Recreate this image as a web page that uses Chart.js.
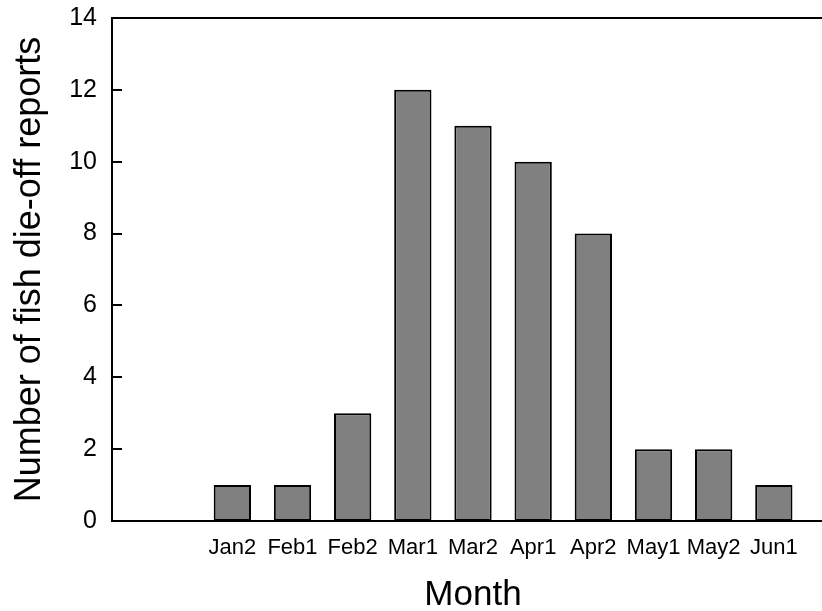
<!DOCTYPE html>
<html>
<head>
<meta charset="utf-8">
<script src="https://cdn.jsdelivr.net/npm/chart.js@4"></script>
<style>
html, body { margin: 0; padding: 0; overflow: hidden; background: #fff; }
#wrap { width: 822px; height: 611px; overflow: hidden; position: relative; }
canvas { display: block; }
</style>
</head>
<body>
<div id="wrap"><canvas id="c" width="834" height="611" style="width:834px;height:611px"></canvas></div>
<script>
const categories = ['Jan2', 'Feb1', 'Feb2', 'Mar1', 'Mar2', 'Apr1', 'Apr2', 'May1', 'May2', 'Jun1'];
const reports = [1, 1, 3, 12, 11, 10, 8, 2, 2, 1];
const yTicks = [0, 2, 4, 6, 8, 10, 12, 14];

const FONT = "'Liberation Sans', Arial, sans-serif";

const framePlugin = {
  id: 'frame',
  afterDraw(chart) {
    const { ctx, chartArea } = chart;
    const y = chart.scales.y;
    ctx.save();
    ctx.strokeStyle = '#000';
    ctx.lineWidth = 2;
    ctx.beginPath();
    ctx.moveTo(chartArea.left - 1, chartArea.top);
    ctx.lineTo(chartArea.right, chartArea.top);
    ctx.stroke();
    ctx.beginPath();
    yTicks.forEach(v => {
      const py = Math.round(y.getPixelForValue(v));
      ctx.moveTo(chartArea.left, py);
      ctx.lineTo(chartArea.left + 10, py);
    });
    ctx.stroke();
    ctx.restore();
  }
};

new Chart(document.getElementById('c'), {
  type: 'bar',
  data: {
    datasets: [{
      data: categories.map((c, i) => ({ x: i + 1, y: reports[i] })),
      backgroundColor: '#808080',
      borderColor: '#000',
      borderWidth: 2,
      borderSkipped: false,
      categoryPercentage: 1,
      barPercentage: 0.62
    }]
  },
  options: {
    responsive: false,
    animation: false,
    devicePixelRatio: 1,
    layout: { padding: { top: 18, left: 0, right: 0, bottom: 0 } },
    plugins: { legend: { display: false }, tooltip: { enabled: false } },
    scales: {
      x: {
        type: 'linear',
        offset: false,
        min: -1,
        max: 11,
        grid: { display: false, drawTicks: false },
        border: { display: true, color: '#000', width: 2 },
        afterFit(s) { s.height = 90; s.paddingLeft = 0; s.paddingRight = 0; },
        afterBuildTicks(s) {
          const t = [];
          for (let v = -1; v <= 11; v++) t.push({ value: v });
          s.ticks = t;
        },
        ticks: {
          autoSkip: false,
          maxRotation: 0,
          padding: 14,
          color: '#000',
          font: { family: FONT, size: 22 },
          callback: (v) => (v >= 1 && v <= categories.length) ? categories[v - 1] : ''
        },
        title: {
          display: true,
          text: 'Month',
          color: '#000',
          font: { family: FONT, size: 35, lineHeight: 0.9 },
          padding: { top: 0, bottom: 0 }
        }
      },
      y: {
        min: 0,
        max: 14,
        grid: { display: false, drawTicks: false },
        border: { display: true, color: '#000', width: 2 },
        afterFit(s) { s.width = 112; s.paddingTop = 0; s.paddingBottom = 0; },
        afterBuildTicks(s) { s.ticks = yTicks.map(v => ({ value: v })); },
        ticks: {
          padding: 15,
          color: '#000',
          font: { family: FONT, size: 25 }
        },
        title: {
          display: true,
          text: 'Number of fish die-off reports',
          color: '#000',
          font: { family: FONT, size: 36, lineHeight: 1 },
          padding: { top: 12, bottom: 0 }
        }
      }
    }
  },
  plugins: [framePlugin]
});
</script>
</body>
</html>
